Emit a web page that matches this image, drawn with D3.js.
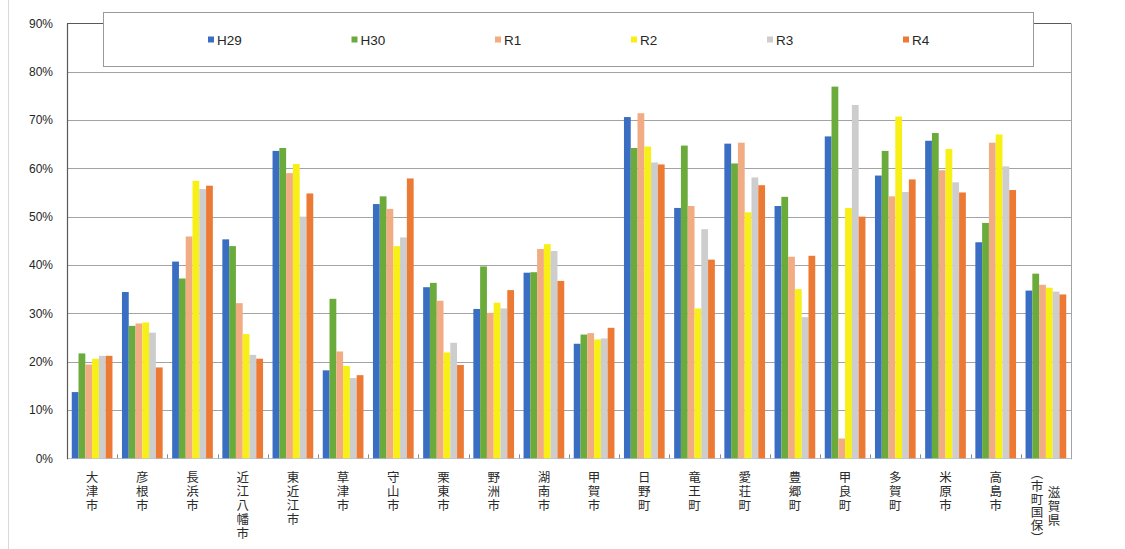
<!DOCTYPE html>
<html>
<head>
<meta charset="utf-8">
<script src="https://cdn.jsdelivr.net/npm/d3@7"></script>
<style>
  body { margin: 0; background: #fff; }
  svg { display: block; }
</style>
</head>
<body>
<svg id="chart" width="1125" height="549"></svg>
<script>
// Municipalities (the last one is the prefecture total, written over two columns)
const categories = ["大津市","彦根市","長浜市","近江八幡市","東近江市","草津市","守山市","栗東市","野洲市","湖南市",
                    "甲賀市","日野町","竜王町","愛荘町","豊郷町","甲良町","多賀町","米原市","高島市","滋賀県（市町国保）"];
const seriesNames = ["H29","H30","R1","R2","R3","R4"];

// Rates in percent, one array per fiscal year
const h29 = [13.7, 34.4, 40.7, 45.3, 63.6, 18.2, 52.6, 35.4, 30.9, 38.4, 23.7, 70.6, 51.8, 65.1, 52.2, 66.6, 58.5, 65.7, 44.7, 34.7];
const h30 = [21.7, 27.4, 37.2, 43.9, 64.2, 33.0, 54.2, 36.3, 39.7, 38.5, 25.6, 64.2, 64.7, 61.0, 54.1, 76.9, 63.6, 67.3, 48.7, 38.2];
const r1  = [19.4, 27.9, 45.9, 32.1, 59.0, 22.1, 51.6, 32.6, 30.1, 43.3, 25.9, 71.4, 52.2, 65.3, 41.7,  4.1, 54.2, 59.6, 65.3, 35.9];
const r2  = [20.6, 28.1, 57.4, 25.7, 60.9, 19.1, 43.9, 21.9, 32.2, 44.3, 24.6, 64.5, 31.0, 50.9, 35.0, 51.8, 70.7, 64.0, 67.0, 35.3];
const r3  = [21.2, 26.0, 55.7, 21.4, 50.0, 16.6, 45.7, 23.9, 31.0, 42.9, 24.8, 61.2, 47.4, 58.1, 29.2, 73.1, 55.1, 57.1, 60.4, 34.5];
const r4  = [21.2, 18.8, 56.4, 20.6, 54.8, 17.2, 57.9, 19.3, 34.8, 36.7, 27.0, 60.8, 41.1, 56.5, 41.9, 50.0, 57.7, 55.0, 55.5, 33.9];

const yTickValues = [0, 10, 20, 30, 40, 50, 60, 70, 80, 90];

const seriesValues = [h29, h30, r1, r2, r3, r4];
const colors = ["#3a6ec3", "#6aab3c", "#f2ac83", "#f8ef16", "#cdcdcd", "#ec7a35"];

const svg = d3.select("#chart");
const plot = { left: 67, right: 1071, top: 23.3, bottom: 458.3 };

const x = d3.scaleBand().domain(categories).range([plot.left, plot.right]).paddingInner(0).paddingOuter(0);
const xs = d3.scaleBand().domain(seriesNames).range([0, x.bandwidth()]).paddingInner(0).paddingOuter(0.7);
const y = d3.scaleLinear().domain([0, 90]).range([plot.bottom, plot.top]);
const color = d3.scaleOrdinal().domain(seriesNames).range(colors);

// outer chart frame edge
svg.append("line").attr("x1", 8.5).attr("x2", 8.5).attr("y1", 0).attr("y2", 549)
  .attr("stroke", "#d9d9d9").attr("stroke-width", 1);

// horizontal gridlines
svg.append("g").selectAll("line").data(yTickValues.filter(d => d > 0 && d < 90)).join("line")
  .attr("x1", plot.left).attr("x2", plot.right)
  .attr("y1", d => Math.round(y(d)) + 0.5).attr("y2", d => Math.round(y(d)) + 0.5)
  .attr("stroke", "#a3a3a3").attr("stroke-width", 1);

// baseline
svg.append("line").attr("x1", plot.left).attr("x2", plot.right)
  .attr("y1", Math.round(y(0)) + 0.5).attr("y2", Math.round(y(0)) + 0.5)
  .attr("stroke", "#b8c4d6").attr("stroke-width", 1);

// bars
const rows = categories.map((c, i) => ({ cat: c, vals: seriesNames.map((s, j) => ({ s, v: seriesValues[j][i] })) }));
const groups = svg.append("g").selectAll("g").data(rows).join("g")
  .attr("transform", d => `translate(${x(d.cat)},0)`);
groups.selectAll("rect").data(d => d.vals).join("rect")
  .attr("x", d => xs(d.s))
  .attr("width", xs.bandwidth())
  .attr("y", d => y(d.v))
  .attr("height", d => y(0) - y(d.v))
  .attr("fill", d => color(d.s));

// category tick marks (inside)
svg.append("g").selectAll("line").data(d3.range(categories.length + 1)).join("line")
  .attr("x1", i => Math.round(plot.left + i * x.step()) + 0.5)
  .attr("x2", i => Math.round(plot.left + i * x.step()) + 0.5)
  .attr("y1", y(0)).attr("y2", y(0) - 4)
  .attr("stroke", "#8c8c8c").attr("stroke-width", 1);

// plot area border
svg.append("line").attr("x1", plot.left + 0.5).attr("x2", plot.left + 0.5)
  .attr("y1", Math.round(plot.top) + 0.5).attr("y2", plot.bottom + 1)
  .attr("stroke", "#595959").attr("stroke-width", 1.2);
svg.append("line").attr("x1", plot.left).attr("x2", plot.right)
  .attr("y1", Math.round(plot.top) + 0.5).attr("y2", Math.round(plot.top) + 0.5)
  .attr("stroke", "#595959").attr("stroke-width", 1);
svg.append("line").attr("x1", plot.right + 0.5).attr("x2", plot.right + 0.5)
  .attr("y1", Math.round(plot.top) + 0.5).attr("y2", plot.bottom + 1)
  .attr("stroke", "#a3a3a3").attr("stroke-width", 1);

// y axis labels
const yAxis = d3.axisLeft(y).tickValues(yTickValues).tickSize(0).tickPadding(14)
  .tickFormat(d => d + "%");
svg.append("g").attr("transform", `translate(${plot.left},0)`).call(yAxis)
  .call(g => g.select(".domain").remove())
  .selectAll("text")
  .attr("font-family", "'Liberation Sans', Arial, sans-serif")
  .attr("font-size", 12).attr("fill", "#262626");

// category labels, stacked vertically one character per line
const vert = ch => ch === "（" ? "︵" : ch === "）" ? "︶" : ch;
const labelFont = "'Noto Sans CJK JP', 'Noto Sans CJK SC', sans-serif";
const step = 14;
const labelTop = 476;
const labels = svg.append("g")
  .attr("font-family", labelFont).attr("font-size", 12.5).attr("fill", "#2b2b2b");
const stack = (chars, cx, firstY, dy) => {
  labels.append("g").selectAll("text").data(chars).join("text")
    .attr("x", cx).attr("y", (d, k) => firstY + k * dy)
    .attr("text-anchor", "middle").attr("dominant-baseline", "central")
    .text(d => vert(d));
};
categories.forEach(c => {
  const cx = x(c) + x.bandwidth() / 2;
  const paren = c.indexOf("（");
  if (paren < 0) {
    stack(Array.from(c), cx, labelTop, step);
  } else {
    // vertical writing: first line on the right, both lines centred on each other
    const centreY = 505;
    const first = Array.from(c.slice(0, paren));
    const second = Array.from(c.slice(paren));
    const dy2 = 13;
    stack(first, cx + 8, centreY - (first.length - 1) * step / 2, step);
    stack(second, cx - 9, centreY - (second.length - 1) * dy2 / 2, dy2);
  }
});

// legend
const legendBox = { x: 103.5, y: 12.5, w: 930, h: 54 };
const lg = svg.append("g");
lg.append("rect").attr("x", legendBox.x).attr("y", legendBox.y)
  .attr("width", legendBox.w).attr("height", legendBox.h)
  .attr("fill", "#fff").attr("stroke", "#9a9a9a").attr("stroke-width", 1);
const legendFont = "'Liberation Sans', Arial, sans-serif";
const items = lg.selectAll("g").data(seriesNames).join("g");
items.append("rect").attr("width", 6).attr("height", 6).attr("y", 36.5).attr("x", 0)
  .attr("fill", d => color(d));
items.append("text").attr("x", 9).attr("y", 40)
  .attr("dominant-baseline", "central")
  .attr("font-family", legendFont).attr("font-size", 13.5).attr("fill", "#262626")
  .text(d => d);
// lay items out left to right with equal gaps between them
const widths = items.nodes().map(n => n.getBBox().width);
const firstX = 208, lastX = 903;
const gap = (lastX - firstX - d3.sum(widths.slice(0, -1))) / (widths.length - 1);
let cursor = firstX;
items.each(function (d, i) {
  d3.select(this).attr("transform", `translate(${cursor},0)`);
  cursor += widths[i] + gap;
});
</script>
</body>
</html>
